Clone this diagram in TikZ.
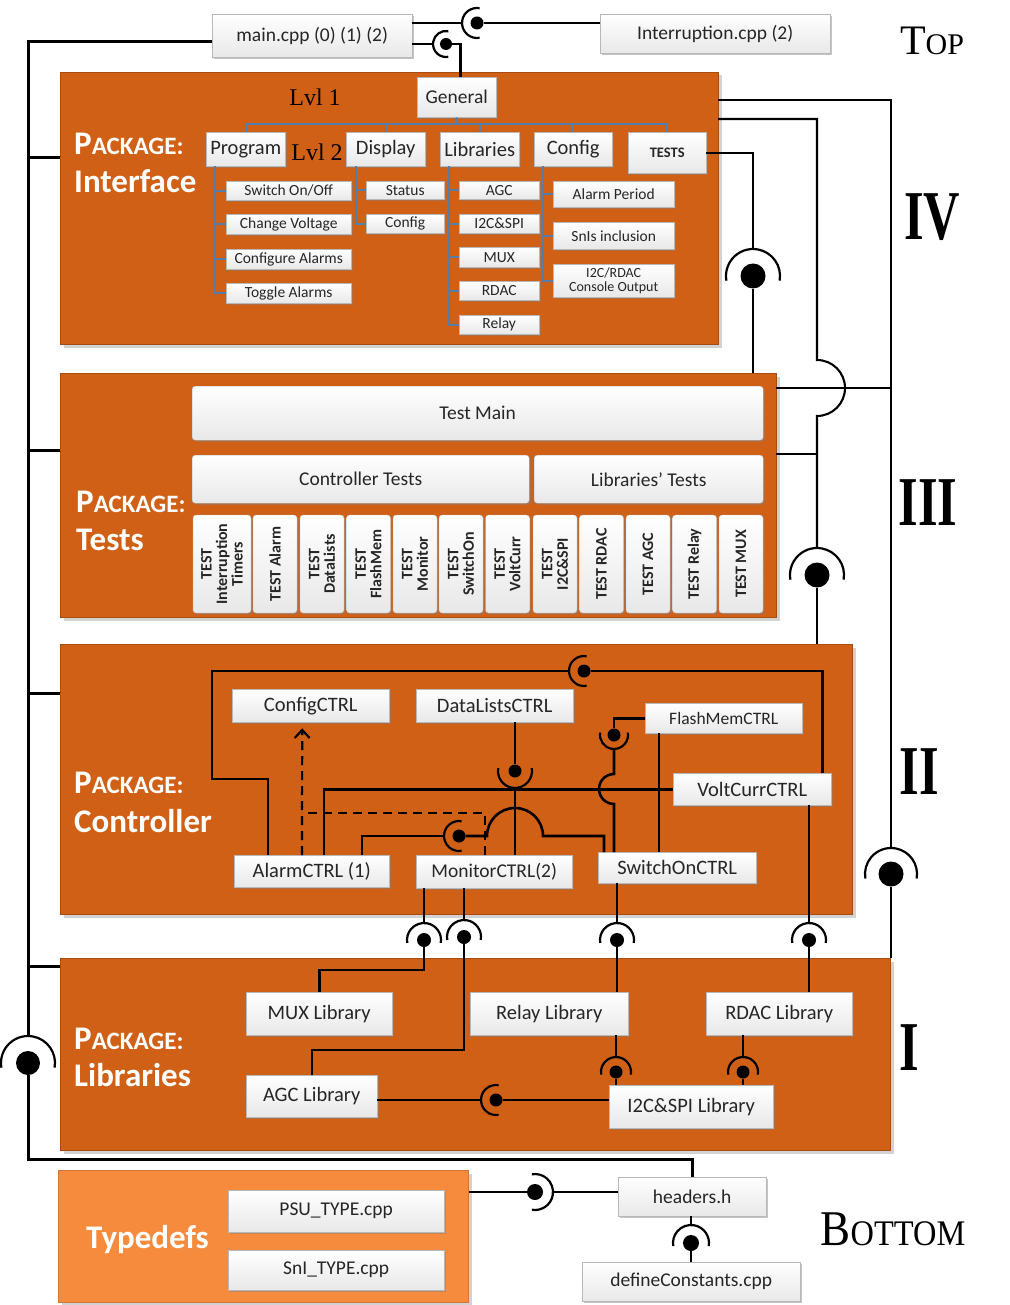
\documentclass[tikz,border=0pt]{standalone}
\usepackage{fontspec}
\setmainfont{Carlito}
\newfontfamily\serifx{Liberation Serif}
\usetikzlibrary{shadows,arrows.meta,calc}
\definecolor{pkgc}{RGB}{209,96,23}
\definecolor{pkgl}{RGB}{246,139,61}
\definecolor{treec}{RGB}{84,125,170}
\newcommand\mkbox[7][]{\node[wbox,anchor=north west,minimum width={#5pt-#3pt},minimum height={#6pt-#4pt},#1] (#2) at (#3,#4) {#7};}
\newcommand\lolli[6]{%
  \node[ball, minimum size={#5*2pt}] (#1) at (#2,#3) {};
  \draw[sock] (#1.center) ++({#4+100}:#6) arc[start angle={#4+100}, end angle={#4-100}, radius=#6];
  \path (#1.center) ++({#4}:#6) coordinate (#1s);}
\newcommand\PK{{\fontsize{33}{33}\selectfont P}{\fontsize{25}{25}\selectfont ACKAGE:}}
\newcommand\numlab[1]{\scalebox{0.72}[1]{\serifx\bfseries\fontsize{70}{70}\selectfont #1}}
\tikzset{
  wbox/.style={draw=black!28, top color=white, bottom color=black!9,
    drop shadow={shadow xshift=1.6pt, shadow yshift=-1.6pt, opacity=0.45},
    inner sep=1pt, align=center, text=black!85, font=\fontsize{19.5}{21}\selectfont},
  sbox/.style={font=\fontsize{15.5}{16}\selectfont},
  lbox/.style={font=\fontsize{20.5}{22}\selectfont},
  vt/.style={wbox, rounded corners=3pt, rotate=90, minimum width=98pt,
    font=\bfseries\fontsize{16}{15.5}\selectfont},
  pkg/.style={fill=pkgc, draw=pkgc!80!black, line width=1pt, anchor=north west,
    drop shadow={shadow xshift=3pt, shadow yshift=-3pt, opacity=0.35}},
  ball/.style={circle, fill=black, inner sep=0pt},
  sock/.style={line width=2.2pt},
  con/.style={line width=2.6pt},
  rcon/.style={line width=2.1pt},
  bus/.style={line width=3pt},
  tree/.style={draw=treec, line width=2pt},
  dep/.style={line width=2.2pt, dash pattern=on 9pt off 6pt},
  plab/.style={anchor=base west, text=white, font=\bfseries\fontsize{33}{33}\selectfont, inner sep=0pt},
}
\begin{document}
\begin{tikzpicture}[x=1pt,y=-1pt]
\useasboundingbox[fill=white] (0,0) rectangle (1009,1305);
% packages
\node[pkg, minimum width=658pt, minimum height=272pt] (pI) at (60,72) {};
\node[pkg, minimum width=716pt, minimum height=244pt] (pT) at (60,373) {};
\node[pkg, minimum width=792pt, minimum height=270pt] (pC) at (60,644) {};
\node[pkg, minimum width=830pt, minimum height=192pt] (pL) at (60,958) {};
\node[pkg, fill=pkgl, draw=pkgl!85!black, minimum width=410pt, minimum height=132pt] (pTD) at (58,1170) {};
% package labels
\node[plab] (lI1) at (74,155) {\PK};
\node[plab] (lI2) at (74,193) {Interface};
\node[plab] (lT1) at (76,512) {\PK};
\node[plab] (lT2) at (76,550) {Tests};
\node[plab] (lC1) at (74,793) {\PK};
\node[plab] (lC2) at (74,832) {Controller};
\node[plab] (lL1) at (74,1049) {\PK};
\node[plab] (lL2) at (74,1086) {Libraries};
\node[plab] (lTD) at (86,1248) {Typedefs};
% top files
\mkbox{main}{212}{14}{412}{57}{main.cpp (0) (1) (2)}
\mkbox{intr}{600}{14}{830}{53}{Interruption.cpp (2)}
% interface
\mkbox{gen}{417}{77}{496}{117}{General}
\mkbox[lbox]{prog}{206}{132}{285}{166}{Program}
\mkbox[lbox]{disp}{346}{132}{425}{166}{Display}
\mkbox[lbox]{libs}{440}{132}{519}{166}{Libraries}
\mkbox[lbox]{conf}{534}{132}{612}{166}{Config}
\mkbox[font=\bfseries\fontsize{14.5}{15}\selectfont]{tstb}{628}{132}{706}{173}{TESTS}
\mkbox[sbox]{p1}{226}{181}{351}{200}{Switch On/Off}
\mkbox[sbox]{p2}{226}{214}{351}{234}{Change Voltage}
\mkbox[sbox]{p3}{226}{249}{351}{269}{Configure Alarms}
\mkbox[sbox]{p4}{226}{283}{351}{303}{Toggle Alarms}
\mkbox[sbox]{d1}{366}{181}{444}{199}{Status}
\mkbox[sbox]{d2}{366}{214}{444}{233}{Config}
\mkbox[sbox]{l1}{459}{181}{539}{199}{AGC}
\mkbox[sbox]{l2}{459}{214}{539}{233}{I2C\&SPI}
\mkbox[sbox]{l3}{459}{247}{539}{267}{MUX}
\mkbox[sbox]{l4}{459}{281}{539}{300}{RDAC}
\mkbox[sbox]{l5}{459}{315}{539}{334}{Relay}
\mkbox[sbox]{c1}{553}{181}{674}{207}{Alarm Period}
\mkbox[sbox]{c2}{553}{222}{674}{249}{SnIs inclusion}
\mkbox[font=\fontsize{14}{14.5}\selectfont]{c3}{553}{264}{674}{297}{I2C/RDAC\\Console Output}
\node[font=\serifx\fontsize{24}{24}\selectfont, inner sep=0pt] (lv1) at (315,97) {Lvl 1};
\node[font=\serifx\fontsize{24}{24}\selectfont, inner sep=0pt] (lv2) at (317,152) {Lvl 2};
% tests
\mkbox[rounded corners=3pt]{tm}{192}{386}{763}{440}{Test Main}
\mkbox[rounded corners=3pt]{ct}{192}{455}{529}{503}{Controller Tests}
\mkbox[rounded corners=3pt]{lt}{534}{455}{763}{503}{Libraries’ Tests}
\node[vt, minimum height=58pt] (v1) at (222,564) {TEST\\Interruption\\Timers};
\node[vt, minimum height=44pt] (v2) at (275,564) {TEST Alarm};
\node[vt, minimum height=44pt] (v3) at (322,564) {TEST\\DataLists};
\node[vt, minimum height=44pt] (v4) at (368.5,564) {TEST\\FlashMem};
\node[vt, minimum height=44pt] (v5) at (415,564) {TEST\\Monitor};
\node[vt, minimum height=44pt] (v6) at (461,564) {TEST\\SwitchOn};
\node[vt, minimum height=44pt] (v7) at (507.5,564) {TEST\\VoltCurr};
\node[vt, minimum height=44pt] (v8) at (555,564) {TEST\\I2C\&SPI};
\node[vt, minimum height=44pt] (v9) at (601.5,564) {TEST RDAC};
\node[vt, minimum height=44pt] (v10) at (648,564) {TEST AGC};
\node[vt, minimum height=44pt] (v11) at (694.5,564) {TEST Relay};
\node[vt, minimum height=44pt] (v12) at (741,564) {TEST MUX};
% controller
\mkbox[lbox]{cfg}{232}{689}{389}{722}{ConfigCTRL}
\mkbox[lbox]{dl}{416}{689}{573}{722}{DataListsCTRL}
\mkbox[font=\fontsize{17.5}{19}\selectfont]{fm}{645}{703}{802}{733}{FlashMemCTRL}
\mkbox[lbox]{volt}{673}{773}{831}{805}{VoltCurrCTRL}
\mkbox[lbox]{alarm}{234}{855}{389}{887}{AlarmCTRL (1)}
\mkbox{mon}{416}{855}{572}{888}{MonitorCTRL(2)}
\mkbox[lbox]{sw}{598}{852}{756}{883}{SwitchOnCTRL}
% libraries
\mkbox[lbox]{mux}{246}{992}{392}{1035}{MUX Library}
\mkbox[lbox]{rel}{470}{992}{628}{1035}{Relay Library}
\mkbox[lbox]{rdl}{706}{992}{852}{1035}{RDAC Library}
\mkbox[lbox]{agc}{246}{1075}{377}{1117}{AGC Library}
\mkbox[lbox]{i2c}{609}{1085}{773}{1128}{I2C\&SPI Library}
% bottom
\mkbox{psu}{228}{1190}{444}{1232}{PSU\_TYPE.cpp}
\mkbox{sni}{228}{1250}{444}{1290}{SnI\_TYPE.cpp}
\mkbox{hdr}{618}{1177}{766}{1216}{headers.h}
\mkbox{def}{582}{1262}{800}{1301}{defineConstants.cpp}
% level labels
\node (nTop) at (932,41) {\serifx\fontsize{42}{42}\selectfont T\fontsize{30}{30}\selectfont OP};
\node (nIV) at (932,217) {\numlab{IV}};
\node (nIII) at (928,503) {\numlab{III}};
\node (nII) at (919,772) {\numlab{II}};
\node (nI) at (909,1048) {\numlab{I}};
\node (nBot) at (893,1229) {\scalebox{0.9}[1]{\serifx\fontsize{50}{50}\selectfont B\fontsize{36}{36}\selectfont OTTOM}};
% interface tree
\coordinate (t0) at (456.5,124);
\draw[tree] (gen.south) -- (t0);
\foreach \n in {prog,disp,libs,conf,tstb} \draw[tree] (t0) -| (\n.north);
\foreach \c in {p1,p2,p3,p4} \draw[tree] ([xshift=8.5pt]prog.south west) |- (\c.west);
\foreach \c in {d1,d2} \draw[tree] ([xshift=10pt]disp.south west) |- (\c.west);
\foreach \c in {l1,l2,l3,l4,l5} \draw[tree] ([xshift=9pt]libs.south west) |- (\c.west);
\foreach \c in {c1,c2,c3} \draw[tree] ([xshift=9pt]conf.south west) |- (\c.west);
% ball and socket joints
\lolli{Lint}{477}{23}{180}{6.5}{15}
\lolli{Lgen}{446}{44}{180}{6}{13}
\lolli{Lleft}{28}{1063}{270}{12}{27}
\lolli{LII}{891}{874}{270}{12.5}{26}
\lolli{LIII}{817}{575}{270}{12.5}{27}
\lolli{LIV}{753}{276}{270}{12.5}{27}
\lolli{Lva}{584}{671}{180}{6.5}{15}
\lolli{Ldl}{515}{771}{90}{6.5}{17}
\lolli{Lmon}{459}{836}{180}{6.5}{15}
\lolli{Lfm}{614}{735}{90}{6.5}{14}
\lolli{Lmux}{424}{940}{270}{7}{17}
\lolli{Lagc}{464}{937}{270}{7}{17}
\lolli{Lrel}{617}{940}{270}{7}{17}
\lolli{Lrd}{809}{940}{270}{7}{17}
\lolli{Lri}{616}{1072}{270}{6.5}{15}
\lolli{Lrdi}{743}{1072}{270}{6.5}{15}
\lolli{Lai}{496}{1100}{180}{6.5}{15}
\lolli{Ltd}{535}{1192}{0}{8}{18}
\lolli{Lhd}{691}{1243}{270}{8}{18}
% top connectors
\draw[con] (main.east |- Lints) -- (Lints);
\draw[con] (Lint) -- (Lint -| intr.west);
\draw[con] (main.east |- Lgens) -- (Lgens);
\draw[con] (Lgen) -| ([xshift=4pt]gen.north);
% left bus
\coordinate (bI) at (28,158);
\coordinate (bT) at (28,450);
\coordinate (bC) at (28,693);
\coordinate (bL) at (28,966);
\coordinate (bB) at (28,1159);
\draw[bus] ([yshift=-6pt]main.west) -| (Llefts);
\draw[bus] (bI) -- (bI -| pI.west);
\draw[bus] (bT) -- (bT -| pT.west);
\draw[bus] (bC) -- (bC -| pC.west);
\draw[bus] (bL) -- (bL -| pL.west);
\draw[bus] (Lleft) -- (bB) -| (hdr.north);
% right side
\coordinate (rI1) at (718,100);
\coordinate (rI2) at (718,119);
\coordinate (rT1) at (776,388);
\coordinate (rT2) at (776,454);
\draw[rcon] (rI1) -| (LIIs);
\draw[rcon] (rT1) -- (rT1 -| LII);
\draw[rcon] (LII) -- (LII |- pL.north);
\draw[rcon] (rI2) -- (rI2 -| LIII) -- ++(0,241) arc[start angle=270,end angle=450,radius=28] -- (LIIIs);
\draw[rcon] (rT2) -- (rT2 -| LIII);
\draw[rcon] (LIII) -- (LIII |- pC.north);
\draw[rcon] (tstb.east) -| (LIVs);
\draw[rcon] (LIV) -- (LIV |- pT.north);
% controller
\draw[con] ([xshift=34pt]alarm.north west) -- ++(0,-76) -- ++(-56,0) |- (Lvas);
\draw[con] (Lva) -| ([xshift=70pt]volt.north);
\draw[con] ([xshift=90pt]alarm.north west) |- (volt.west);
\draw[dep, -{Straight Barb[length=8pt,width=15pt]}, shorten >=6pt] ([xshift=68pt]alarm.north west) -- ([xshift=-8.5pt]cfg.south);
\draw[dep] ([xshift=69pt]mon.north west) |- ([xshift=68pt,yshift=42pt]alarm.north west);
\draw[con] (Ldls |- dl.south) -- (Ldl);
\draw[con] (Ldls) -- (Ldls |- mon.north);
\draw[con] ([xshift=128pt]alarm.north west) |- (Lmons);
\coordinate (j1) at (487,836);
\draw[con] (Lmon) -- (j1) arc[start angle=180,end angle=360,radius=28] -| ([xshift=6pt]sw.north west);
\draw[con] (fm.west) -| (Lfm);
\coordinate (j2) at (614,774);
\draw[con] (Lfms) -- (j2) arc[start angle=270,end angle=90,radius=15] -- ([xshift=16pt]sw.north west);
\draw[con] ([xshift=14pt]fm.south west) -- ([xshift=14pt]fm.south west |- sw.north);
% controller to libraries
\draw[con] ([xshift=8pt]mon.south west) -- (Lmuxs);
\coordinate (k1) at (424,970);
\draw[con] (Lmux) -- (k1) -| (mux.north);
\draw[con] ([xshift=48pt]mon.south west) -- (Lagcs);
\coordinate (k2) at (464,1050);
\draw[con] (Lagc) -- (k2) -| ([xshift=66pt]agc.north west);
\draw[con] ([xshift=19pt]sw.south west) -- (Lrels);
\draw[con] (Lrel) -- (Lrel |- rel.north);
\draw[con] ([xshift=136pt]volt.south west) -- (Lrds);
\draw[con] (Lrd) -- (Lrd |- rdl.north);
% libraries
\draw[con] (Lris |- rel.south) -- (Lris);
\draw[con] (Lri) -- (Lri |- i2c.north);
\draw[con] (Lrdis |- rdl.south) -- (Lrdis);
\draw[con] (Lrdi) -- (Lrdi |- i2c.north);
\draw[con] (agc.east |- Lais) -- (Lais);
\draw[con] (Lai) -- (Lai -| i2c.west);
% bottom
\draw[con] (pTD.east |- Ltd) -- (Ltd);
\draw[con] (Ltds) -- (Ltds -| hdr.west);
\draw[con] (Lhds |- hdr.south) -- (Lhds);
\draw[con] (Lhd) -- (Lhd |- def.north);
\end{tikzpicture}
\end{document}
